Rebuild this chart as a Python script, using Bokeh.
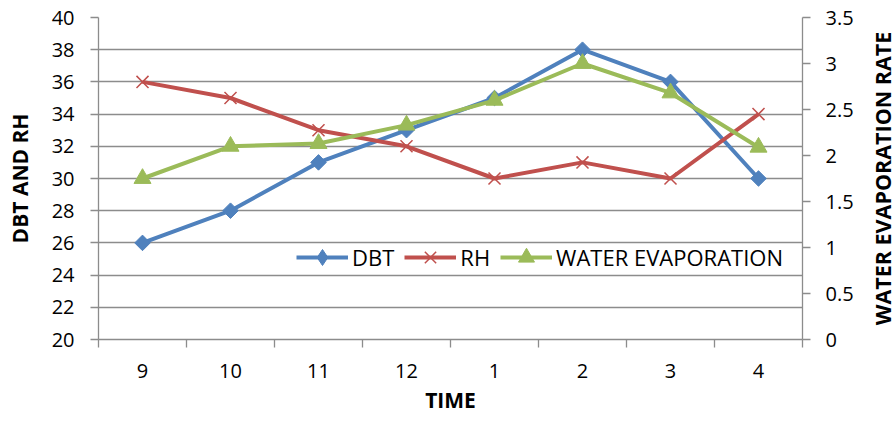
from bokeh.plotting import figure
from bokeh.layouts import row
from bokeh.models import (Range1d, LinearAxis, FixedTicker, Legend, LegendItem, Title,
                          CustomJSTickFormatter, NumeralTickFormatter)
from bokeh.embed import file_html
from bokeh.resources import INLINE

# ---- data ----
times = ["9", "10", "11", "12", "1", "2", "3", "4"]
dbt = [26, 28, 31, 33, 35, 38, 36, 30]
rh = [36, 35, 33, 32, 30, 31, 30, 34]
evap = [1.75, 2.1, 2.13, 2.33, 2.6, 3.0, 2.68, 2.09]
left_ticks = [20, 22, 24, 26, 28, 30, 32, 34, 36, 38, 40]
right_ticks = [0, 0.5, 1, 1.5, 2, 2.5, 3, 3.5]

x = [i + 0.5 for i in range(len(times))]

FONT = "Open Sans"
GRAY = "#8c8c8c"
BLUE, RED, GREEN = "#4F81BD", "#C0504D", "#9BBB59"

p = figure(width=866, height=423, output_backend="svg", toolbar_location=None,
           x_range=Range1d(0, len(times)), y_range=Range1d(20, 40),
           min_border_left=98, min_border_right=64, min_border_top=17,
           min_border_bottom=84, outline_line_color=None, background_fill_color="white",
           border_fill_color="white")
p.extra_y_ranges = {"evap": Range1d(0, 3.5)}

# grid
p.xgrid.grid_line_color = None
p.ygrid.grid_line_color = GRAY
p.ygrid.grid_line_width = 1.3
p.ygrid.ticker = FixedTicker(ticks=left_ticks)

# x axis
xa = p.xaxis[0]
xa.ticker = FixedTicker(ticks=x, minor_ticks=list(range(0, len(times) + 1)))
xa.formatter = CustomJSTickFormatter(args=dict(labels=times),
                                     code="return labels[Math.floor(tick)];")
xa.major_tick_line_color = None
xa.major_tick_out = 8
xa.major_tick_in = 0
xa.minor_tick_out = 8
xa.minor_tick_in = 0
xa.minor_tick_line_color = GRAY
xa.minor_tick_line_width = 1.3
xa.axis_label = "TIME"

# left axis
ya = p.yaxis[0]
ya.ticker = FixedTicker(ticks=left_ticks)
ya.minor_tick_line_color = None
ya.major_tick_out = 8
ya.major_tick_in = 0
ya.axis_label = "DBT AND RH"

# right axis
ra = LinearAxis(y_range_name="evap", ticker=FixedTicker(ticks=right_ticks),
                formatter=NumeralTickFormatter(format="0.[0]"))
ra.minor_tick_line_color = None
ra.major_tick_out = 8
ra.major_tick_in = 0
p.add_layout(ra, "right")

for ax in [xa, ya, ra]:
    ax.axis_line_color = GRAY
    ax.axis_line_width = 1.3
    ax.major_tick_line_width = 1.3
    if ax is not xa:
        ax.major_tick_line_color = GRAY
    ax.major_label_text_font = FONT
    ax.major_label_text_font_size = "20px"
    ax.major_label_text_color = "black"
    ax.axis_label_text_font = FONT
    ax.axis_label_text_font_size = "21px"
    ax.axis_label_text_font_style = "bold"
    ax.axis_label_text_color = "black"

xa.major_label_standoff = 16
xa.axis_label_standoff = 5
ya.major_label_standoff = 16
ya.axis_label_standoff = 15
ra.major_label_standoff = 15

# series
l1 = p.line(x, dbt, line_color=BLUE, line_width=4)
s1 = p.scatter(x, dbt, marker="square", angle=0.785, size=11, fill_color=BLUE, line_color=BLUE)
s1_leg = p.scatter(x, dbt, marker="diamond", fill_color=BLUE, line_color=BLUE, visible=False)
l2 = p.line(x, rh, line_color=RED, line_width=4)
s2 = p.scatter(x, rh, marker="x", size=17, line_color=RED, line_width=1.5)
l3 = p.line(x, evap, line_color=GREEN, line_width=4, y_range_name="evap")
s3 = p.scatter(x, evap, marker="triangle", size=17, fill_color=GREEN, line_color=GREEN,
               y_range_name="evap")

legend = Legend(items=[LegendItem(label="DBT", renderers=[l1, s1_leg]),
                       LegendItem(label="RH", renderers=[l2, s2]),
                       LegendItem(label="WATER EVAPORATION", renderers=[l3, s3])],
                orientation="horizontal", location=(198, 62), border_line_color=None,
                background_fill_alpha=0.0, inactive_fill_alpha=0.0,
                padding=0, margin=0, spacing=10, label_standoff=4, glyph_width=52,
                glyph_height=40, label_text_font=FONT, label_text_font_size="22px",
                label_text_color="black")
p.add_layout(legend)

# right-hand axis title (reads bottom-to-top, as in the reference)
p2 = figure(width=30, height=423, output_backend="svg", toolbar_location=None,
            x_axis_type=None, y_axis_type=None, outline_line_color=None,
            min_border_left=0, min_border_right=0, min_border_top=17,
            min_border_bottom=84, background_fill_color="white", border_fill_color="white")
p2.add_layout(Title(text="WATER EVAPORATION RATE", align="center", standoff=0, offset=0,
                    text_font=FONT, text_font_size="21.5px", text_font_style="bold",
                    text_color="black"), "left")

layout = row(p, p2, spacing=0)
open("out.html", "w").write(file_html(layout, INLINE))
